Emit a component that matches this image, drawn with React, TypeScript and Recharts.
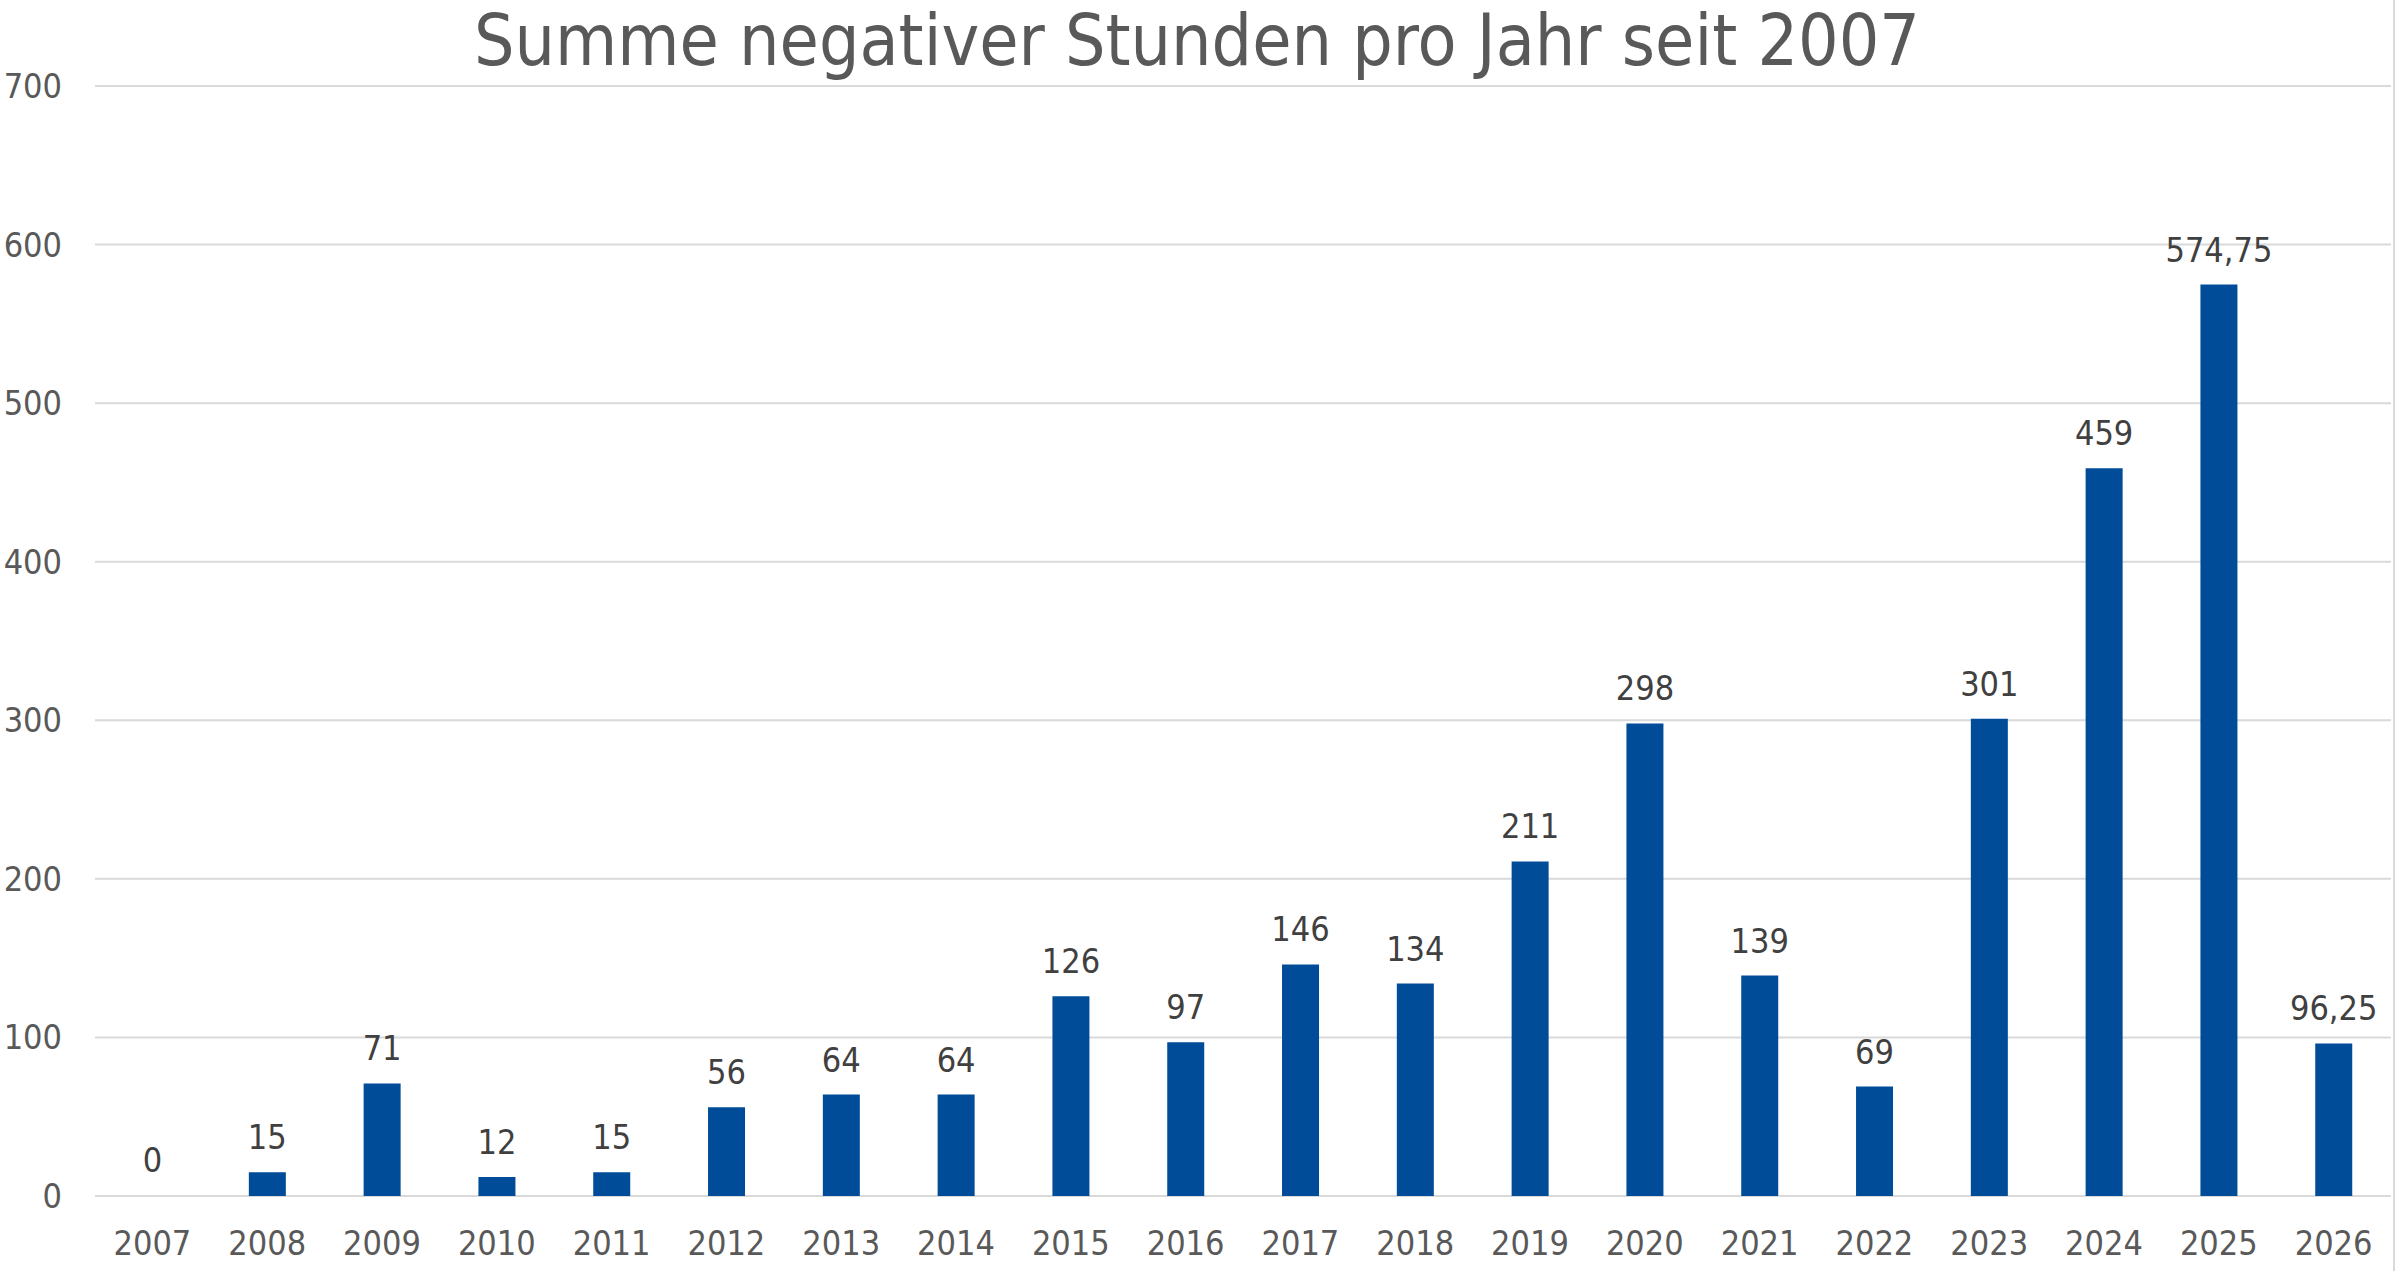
import React from 'react';
import { BarChart, Bar, XAxis, YAxis, CartesianGrid, LabelList, Cell } from 'recharts';

const years = [
  '2007', '2008', '2009', '2010', '2011', '2012', '2013', '2014', '2015', '2016',
  '2017', '2018', '2019', '2020', '2021', '2022', '2023', '2024', '2025', '2026',
];
const hours = [0, 15, 71, 12, 15, 56, 64, 64, 126, 97, 146, 134, 211, 298, 139, 69, 301, 459, 574.75, 96.25];
const yTicks = [0, 100, 200, 300, 400, 500, 600, 700];

const title = 'Summe negativer Stunden pro Jahr seit 2007';
const FONT = '"DejaVu Sans Condensed", "DejaVu Sans", sans-serif';
const BLUE = '#004C98';

const data = years.map((year, i) => ({ year, hours: hours[i] }));

const fmt = (v: any) => String(v).replace('.', ',');

export default function App() {
  return (
    <div style={{ position: 'absolute', left: 0, top: 0, width: 2400, height: 1271, background: '#fff', fontFamily: FONT }}>
      <svg width={2400} height={1271} style={{ position: 'absolute', left: 0, top: 0 }}>
        <text x={1197} y={65} textAnchor="middle" fontSize={71} fill="#595959" fontFamily={FONT}>
          {title}
        </text>
        <line x1={2394} y1={0} x2={2394} y2={1271} stroke="#d9d9d9" strokeWidth={2} />
      </svg>
      <div style={{ position: 'absolute', left: 0, top: 0 }}>
        <BarChart
          width={2400}
          height={1271}
          data={data}
          margin={{ top: 86, right: 9, left: 0, bottom: 15 }}
          barCategoryGap="34%"
        >
          <CartesianGrid vertical={false} stroke="#d9d9d9" strokeWidth={2} />
          <XAxis
            dataKey="year"
            height={60}
            tickLine={false}
            axisLine={false}
            tickSize={0}
            tickMargin={35}
            interval={0}
            tick={{ fontSize: 34, fill: '#595959', fontFamily: FONT }}
          />
          <YAxis
            width={95}
            domain={[0, 700]}
            ticks={yTicks}
            tickLine={false}
            axisLine={false}
            tickSize={0}
            tickMargin={33}
            tick={{ fontSize: 34, fill: '#595959', fontFamily: FONT }}
          />
          {/* zero bar gets a 1px invisible stub so its "0" label is still drawn */}
          <Bar
            dataKey="hours"
            fill={BLUE}
            minPointSize={(v: number) => (v === 0 ? 1 : 0)}
            isAnimationActive={false}
          >
            {data.map((d) => (
              <Cell key={d.year} fill={d.hours === 0 ? 'transparent' : BLUE} />
            ))}
            <LabelList
              dataKey="hours"
              position="top"
              offset={23}
              formatter={fmt}
              style={{ fontSize: 34, fill: '#404040', fontFamily: FONT }}
            />
          </Bar>
        </BarChart>
      </div>
    </div>
  );
}
